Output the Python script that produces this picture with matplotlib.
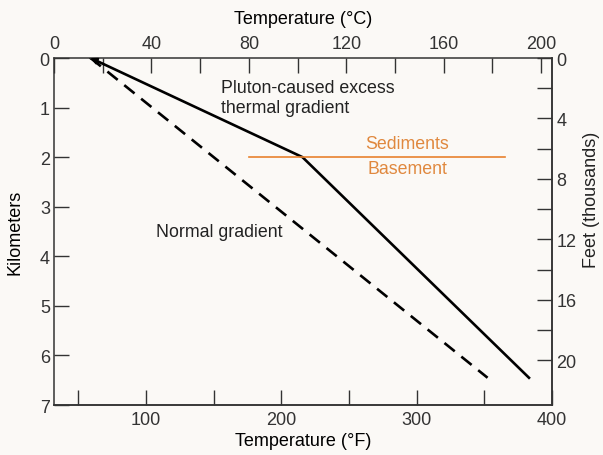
import numpy as np
import matplotlib.pyplot as plt
from matplotlib.ticker import MultipleLocator

plt.rcParams.update({
    "font.family": ["Liberation Sans", "DejaVu Sans"],
    "font.size": 12.5,
    "text.color": "#222222",
    "axes.edgecolor": "#333333",
    "xtick.color": "#333333",
    "ytick.color": "#333333",
})

# temperature profiles, temperature in deg C, depth in km
pluton_temp_c = [15, 102, 195]
pluton_depth_km = [0.0, 2.0, 6.45]
normal_temp_c = [15, 178]
normal_depth_km = [0.0, 6.45]

# sediments / basement boundary
contact_temp_c = [80, 185]
contact_depth_km = [2.0, 2.0]

KM_TO_KFT = 3.2808

def c2f(c):
    return c * 9.0 / 5.0 + 32.0

def f2c(f):
    return (f - 32.0) * 5.0 / 9.0

def km2kft(k):
    return k * KM_TO_KFT

def kft2km(f):
    return f / KM_TO_KFT

bg = "#fbf9f6"
orange_line = "#e8822e"
orange_text = "#e0883e"

fig = plt.figure(figsize=(6.03, 4.56), dpi=100, facecolor=bg)
ax = fig.add_axes([0.0896, 0.1096, 0.8258, 0.761], facecolor=bg)

ax.plot(pluton_temp_c, pluton_depth_km, color="black", lw=1.9,
        solid_joinstyle="round")
ax.plot(normal_temp_c, normal_depth_km, color="black", lw=1.9,
        dashes=(5.0, 3.2))
ax.plot(contact_temp_c, contact_depth_km, color=orange_line, lw=1.2)

# small arrow head at the top of the pluton curve
ax.annotate("", xy=(pluton_temp_c[0], pluton_depth_km[0]),
            xytext=(pluton_temp_c[0] + 6, pluton_depth_km[0] + 0.14),
            arrowprops=dict(arrowstyle="-|>", color="black", lw=1.2,
                            mutation_scale=10, shrinkA=0, shrinkB=0))

ax.text(68.5, 0.8, "Pluton-caused excess\nthermal gradient", ha="left",
        va="center", fontsize=12.8, linespacing=1.2)
ax.text(145, 1.72, "Sediments", ha="center", va="center", fontsize=12.8,
        color=orange_text)
ax.text(145, 2.22, "Basement", ha="center", va="center", fontsize=12.8,
        color=orange_text)
ax.text(42, 3.5, "Normal gradient", ha="left", va="center", fontsize=12.8)

ax.set_xlim(0, f2c(400))
ax.set_ylim(7, 0)

# top axis: Celsius
ax.xaxis.tick_top()
ax.xaxis.set_label_position("top")
ax.xaxis.set_major_locator(MultipleLocator(40))
ax.xaxis.set_minor_locator(MultipleLocator(20))
ax.set_xlabel("Temperature (°C)", labelpad=9, fontsize=13)
ax.yaxis.set_major_locator(MultipleLocator(1))
ax.set_ylabel("Kilometers", labelpad=12, fontsize=13)

ax.tick_params(which="both", direction="in", length=11, width=1.0,
               labelsize=13)
ax.tick_params(axis="x", which="both", pad=4)
ax.tick_params(axis="y", which="both", pad=3, right=False)

# bottom axis: Fahrenheit
secx = ax.secondary_xaxis("bottom", functions=(c2f, f2c))
secx.set_xticks([100, 200, 300, 400])
secx.set_xticks([50, 150, 250, 350], minor=True)
secx.tick_params(which="both", direction="in", length=11, width=1.0,
                 labelsize=13, pad=4)
secx.set_xlabel("Temperature (°F)", labelpad=3, fontsize=13)

# right axis: feet
secy = ax.secondary_yaxis("right", functions=(km2kft, kft2km))
secy.set_yticks([0, 4, 8, 12, 16, 20])
secy.set_yticks([2, 6, 10, 14, 18], minor=True)
secy.tick_params(which="both", direction="in", length=11, width=1.0,
                 labelsize=13, pad=3)
fig.text(591 / 603, 1 - 200 / 456, "Feet (thousands)", rotation=90,
         ha="center", va="center", fontsize=13)

for s in ax.spines.values():
    s.set_linewidth(1.1)
for sec in (secx, secy):
    for s in sec.spines.values():
        s.set_linewidth(1.1)

fig.savefig("out.png", dpi=100, facecolor=bg)
